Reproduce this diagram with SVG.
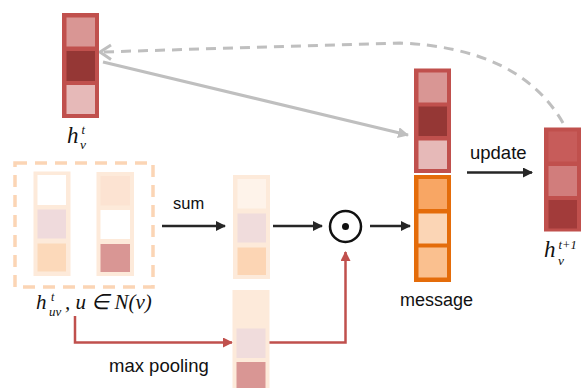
<svg xmlns="http://www.w3.org/2000/svg" width="581" height="388" viewBox="0 0 581 388">
<style>
.lbl{font-family:"Liberation Sans",Arial,sans-serif;fill:#111}
.math{font-family:"Liberation Serif","Times New Roman",serif;font-style:italic;fill:#111}
.blk{stroke:#262626;stroke-width:2.5;fill:none}
.red{stroke:#C0504D;stroke-width:2.5;fill:none}
.gray{stroke:#BFBFBF;stroke-width:3;fill:none}
</style>
<defs>
<marker id="ab" markerWidth="10" markerHeight="10" refX="9" refY="5" orient="auto" markerUnits="userSpaceOnUse" viewBox="0 0 10 10"><path d="M0,0 L10,5 L0,10 z" fill="#262626"/></marker>
<marker id="ar" markerWidth="10" markerHeight="10" refX="9" refY="5" orient="auto" markerUnits="userSpaceOnUse" viewBox="0 0 10 10"><path d="M0,0 L10,5 L0,10 z" fill="#C0504D"/></marker>
<marker id="ag" markerWidth="11" markerHeight="11" refX="10" refY="5.5" orient="auto" markerUnits="userSpaceOnUse" viewBox="0 0 11 11"><path d="M0,0 L11,5.5 L0,11 z" fill="#BFBFBF"/></marker>
</defs>

<g id="connectors">
<path class="gray" d="M563,123 Q520,48 400,43 L102,52" stroke-dasharray="10,7"/>
<path class="gray" d="M111,45 L100,52 L111,59.5"/>
<path class="gray" d="M103,62 L408,135" marker-end="url(#ag)"/>
<path class="blk" d="M162,226 L225,226" marker-end="url(#ab)"/>
<path class="blk" d="M273,226 L322,226" marker-end="url(#ab)"/>
<path class="blk" d="M370,226 L410,226" marker-end="url(#ab)"/>
<path class="blk" d="M467,172.5 L532,172.5" marker-end="url(#ab)"/>
<path class="red" d="M75,316 L75,342.5 L232,342.5" marker-end="url(#ar)"/>
<path class="red" d="M268,342.5 L345.5,342.5 L345.5,252" marker-end="url(#ar)"/>
</g>

<g id="hv">
<rect x="62" y="13" width="37" height="105" fill="#C0504D"/>
<rect x="66.5" y="17.5" width="28.5" height="29" fill="#D99694"/>
<rect x="66.5" y="51" width="28.5" height="30" fill="#953735"/>
<rect x="66.5" y="85" width="28.5" height="29" fill="#E6B9B8"/>
<text class="math" x="67" y="143" font-size="23">h<tspan x="81.5" y="133.5" font-size="12.5">t</tspan><tspan x="80" y="149" font-size="13.5">v</tspan></text>
</g>

<g id="neighbors">
<rect x="15" y="163" width="138" height="124" fill="none" stroke="#FBD5B5" stroke-width="3.5" stroke-dasharray="12,8"/>
<rect x="33.5" y="171.5" width="37" height="104.5" fill="#FDEADA"/>
<rect x="37.5" y="175" width="28.5" height="30" fill="#FFFFFF"/>
<rect x="37.5" y="209.5" width="28.5" height="29" fill="#EFDADC"/>
<rect x="37.5" y="243.5" width="28.5" height="28" fill="#FCD9BA"/>
<rect x="96.5" y="172" width="37.5" height="104" fill="#FDEADA"/>
<rect x="100.5" y="176" width="29.5" height="29.5" fill="#FCE3D2"/>
<rect x="100.5" y="210" width="29.5" height="29" fill="#FFFFFF"/>
<rect x="100.5" y="244" width="29.5" height="28" fill="#D99694"/>
<text class="math" x="36" y="309" font-size="21">h<tspan x="51" y="300.5" font-size="12">t</tspan><tspan x="49" y="315.5" font-size="13">uv</tspan><tspan x="65" y="309">, u ∈ N(v)</tspan></text>
</g>

<g id="sum">
<text class="lbl" x="173" y="209" font-size="16.5">sum</text>
<rect x="233" y="175" width="37" height="104" fill="#FDEADA"/>
<rect x="237.5" y="179" width="28.5" height="29.5" fill="#FEF3EA"/>
<rect x="237.5" y="213.5" width="28.5" height="29" fill="#F0DCDC"/>
<rect x="237.5" y="247.5" width="28.5" height="27.5" fill="#FCD5B4"/>
</g>

<g id="maxpool">
<rect x="232.5" y="290" width="37" height="100" fill="#FDEADA"/>
<rect x="236.5" y="294" width="29" height="29.5" fill="#FDEADA"/>
<rect x="236.5" y="328.5" width="29" height="29.5" fill="#F0DCDC"/>
<rect x="236.5" y="362" width="29" height="30" fill="#D99694"/>
<text class="lbl" x="109" y="372" font-size="18.5">max pooling</text>
</g>

<g id="odot">
<circle cx="345.5" cy="226.5" r="15.5" fill="#FFFFFF" stroke="#111" stroke-width="2.5"/>
<circle cx="345.5" cy="226.5" r="3.5" fill="#111"/>
</g>

<g id="message">
<rect x="414" y="68.5" width="37" height="104.5" fill="#C0504D"/>
<rect x="418.5" y="72.5" width="28.5" height="30" fill="#D99694"/>
<rect x="418.5" y="106.5" width="28.5" height="29.5" fill="#953735"/>
<rect x="418.5" y="140.5" width="28.5" height="28.5" fill="#E6B9B8"/>
<rect x="414" y="175" width="37" height="107" fill="#E46C0A"/>
<rect x="418.5" y="179" width="28.5" height="30" fill="#F8A664"/>
<rect x="418.5" y="213.5" width="28.5" height="30" fill="#FBD5B5"/>
<rect x="418.5" y="247.5" width="28.5" height="30" fill="#FAC08F"/>
<text class="lbl" x="400" y="306" font-size="18">message</text>
</g>

<g id="update">
<text class="lbl" x="470" y="159" font-size="18.5">update</text>
</g>

<g id="hv_next">
<rect x="544" y="127.5" width="37" height="104" fill="#C0504D"/>
<rect x="548.5" y="131.5" width="28.5" height="30" fill="#C75C5A"/>
<rect x="548.5" y="166" width="28.5" height="30" fill="#D17D7C"/>
<rect x="548.5" y="200" width="28.5" height="28.5" fill="#A23B3A"/>
<text class="math" x="544" y="257" font-size="23">h<tspan x="558.5" y="248.5" font-size="12.5">t+1</tspan><tspan x="558" y="264.5" font-size="13.5">v</tspan></text>
</g>
</svg>
